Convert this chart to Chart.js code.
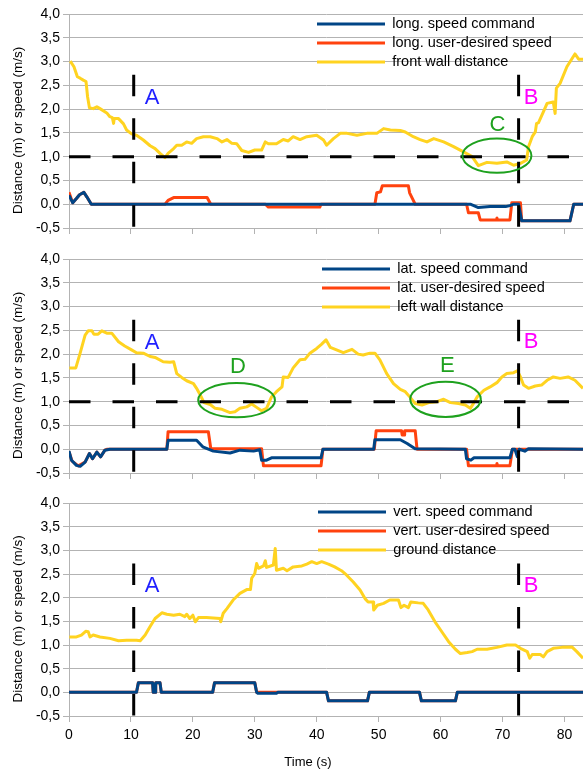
<!DOCTYPE html>
<html>
<head>
<meta charset="utf-8">
<script src="https://cdn.jsdelivr.net/npm/chart.js@4.4.0/dist/chart.umd.min.js"></script>
<style>
  body { margin: 0; background: #fff; }
  .panel { position: absolute; left: 0; width: 583px; }
</style>
</head>
<body>
<div class="panel" style="top:0;height:240px"><canvas id="chart1"></canvas></div>
<div class="panel" style="top:245px;height:240px"><canvas id="chart2"></canvas></div>
<div class="panel" style="top:489px;height:281px"><canvas id="chart3"></canvas></div>
<script>
// Axis ticks
const timeTicks = [0, 10, 20, 30, 40, 50, 60, 70, 80];
const valueTicks = [-0.5, 0, 0.5, 1, 1.5, 2, 2.5, 3, 3.5, 4];

// Event times (s) and the 1 m reference
const eventA = 10.45;
const eventB = 72.6;
const refDistance = 1.0;

// Panel 1: longitudinal  [time, value]
const longLabels = ["long. speed command", "long. user-desired speed", "front wall distance"];
const longCommand = [[0,0.19],[0.6,0.03],[1.2,0.12],[1.7,0.2],[2.4,0.25],[2.9,0.15],[3.6,0],[64.8,0],[66.1,-0.07],[68,-0.05],[70.5,-0.05],[71.2,-0.03],[71.8,0],[72.6,0],[73.1,-0.35],[80.9,-0.35],[81.5,0],[83,0]];
const longDesired = [[0,0.25],[0.4,0.1],[0.6,0.03],[1.2,0.12],[1.7,0.2],[2.4,0.25],[2.9,0.15],[3.6,0],[15.5,0],[16.0,0.08],[16.9,0.14],[22.3,0.14],[22.9,0],[31.7,0],[32.2,-0.06],[40.5,-0.06],[40.7,0],[49.4,0],[49.7,0.24],[50.3,0.26],[50.6,0.39],[54.8,0.39],[55.0,0.24],[55.6,0.08],[55.9,0],[64.2,0],[64.5,-0.18],[66.1,-0.18],[66.4,-0.33],[69.0,-0.33],[69.1,-0.29],[69.2,-0.33],[71.2,-0.33],[71.5,0.03],[72.9,0.03],[73.1,-0.35],[80.9,-0.35],[81.5,0],[83,0]];
const frontWall = [[0.2,3.01],[0.8,2.89],[1.35,2.68],[1.8,2.65],[2.3,2.61],[2.75,2.58],[3.0,2.26],[3.3,2.03],[3.9,2.01],[4.5,2.05],[5.0,2.01],[6.1,1.92],[6.6,1.84],[7.0,1.82],[7.2,1.70],[7.3,1.80],[8.0,1.80],[8.8,1.69],[9.3,1.56],[10.1,1.48],[10.9,1.45],[12.0,1.35],[13.1,1.23],[13.9,1.17],[14.7,1.07],[15.5,0.98],[16.0,1.07],[16.9,1.17],[17.4,1.24],[18.2,1.24],[19.0,1.31],[19.8,1.28],[20.6,1.38],[21.7,1.42],[22.8,1.42],[23.9,1.38],[24.7,1.31],[25.5,1.36],[26.3,1.28],[27.1,1.27],[27.9,1.13],[29.0,1.09],[30.0,1.14],[31.1,1.14],[31.7,1.31],[32.2,1.27],[33.5,1.27],[34.6,1.36],[35.4,1.33],[36.2,1.42],[37.3,1.36],[38.4,1.42],[40.0,1.45],[41.1,1.35],[41.6,1.24],[42.7,1.38],[43.8,1.49],[44.9,1.49],[46.5,1.45],[48.1,1.49],[49.7,1.49],[50.8,1.59],[51.9,1.56],[53.5,1.55],[54.3,1.52],[55.6,1.42],[56.7,1.36],[57.8,1.31],[58.9,1.38],[60.5,1.31],[62.1,1.21],[63.7,1.10],[65.1,1.00],[66.1,0.81],[67.5,0.88],[69.1,0.86],[70.7,0.89],[71.8,0.82],[72.9,0.86],[73.9,0.93],[74.2,1.21],[74.8,1.42],[75.3,1.52],[75.5,1.70],[75.8,1.71],[76.6,1.94],[77.2,2.12],[78.2,2.15],[78.5,1.91],[78.7,2.44],[79.3,2.54],[80.4,2.89],[81.7,3.16],[82.3,3.05],[83.0,3.05]];

// Panel 2: lateral
const latLabels = ["lat. speed command", "lat. user-desired speed", "left wall distance"];
const latCommand = [[0,-0.04],[0.4,-0.23],[1.2,-0.34],[1.8,-0.36],[2.6,-0.27],[3.3,-0.09],[3.8,-0.2],[4.5,-0.06],[5.1,-0.16],[5.8,-0.02],[6.6,0],[15.8,0],[16.0,0.19],[20.6,0.19],[21.6,0.05],[23.3,-0.04],[26.0,-0.08],[27.6,-0.02],[29.8,-0.04],[30.8,-0.01],[31.1,-0.23],[31.9,-0.23],[32.7,-0.18],[40.7,-0.18],[41.0,0],[49.2,0],[49.4,0.2],[53.5,0.2],[54.6,0.12],[55.9,0.01],[64.0,0],[64.2,-0.2],[64.9,-0.23],[65.4,-0.18],[71.2,-0.18],[71.6,0],[72.0,0],[72.4,-0.16],[72.7,0],[73.6,-0.04],[74.2,0.01],[83,0]];
const latDesired = [[0,-0.05],[0.5,-0.25],[1.5,-0.35],[2.6,-0.27],[3.3,-0.09],[3.8,-0.2],[4.5,-0.06],[5.1,-0.16],[5.8,-0.02],[6.1,0],[15.8,0],[16.0,0.37],[22.5,0.37],[22.9,0.01],[31.1,0.01],[31.4,-0.35],[40.7,-0.35],[41.0,0],[49.3,0],[49.6,0.39],[53.7,0.39],[53.8,0.3],[54.1,0.3],[54.2,0.39],[55.9,0.39],[56.2,0],[64.2,0],[64.5,-0.35],[69.0,-0.35],[69.1,-0.3],[69.2,-0.35],[71.2,-0.35],[71.6,0],[83,0]];
const leftWall = [[0.05,1.71],[1.1,1.71],[1.8,2.02],[2.6,2.40],[3.1,2.49],[3.7,2.49],[4.0,2.42],[4.7,2.42],[5.3,2.49],[6.1,2.44],[6.9,2.44],[8.0,2.26],[9.0,2.17],[10.1,2.09],[10.9,2.03],[12.0,2.02],[13.1,1.95],[13.9,1.93],[15.2,1.84],[16.3,1.83],[16.9,1.84],[17.4,1.59],[18.2,1.51],[19.0,1.44],[20.1,1.38],[20.6,1.28],[21.2,1.14],[21.8,0.98],[22.8,0.94],[23.6,0.86],[24.7,0.84],[26.0,0.77],[26.8,0.79],[27.6,0.86],[28.7,0.89],[29.5,0.95],[30.3,0.88],[31.1,0.81],[31.9,0.86],[32.7,1.10],[33.5,1.21],[34.4,1.31],[34.6,1.52],[35.4,1.51],[36.2,1.71],[37.3,1.88],[38.1,1.89],[38.9,2.02],[40.0,2.12],[40.8,2.21],[41.5,2.30],[42.2,2.14],[43.2,2.09],[44.3,2.03],[45.7,2.10],[46.7,2.00],[47.5,1.98],[48.6,2.02],[49.4,2.02],[50.2,1.88],[51.3,1.59],[52.4,1.38],[53.5,1.26],[54.3,1.21],[55.1,1.09],[55.9,0.96],[57.0,0.93],[58.1,0.98],[59.4,1.00],[60.5,1.05],[61.6,0.98],[62.9,0.96],[64.0,0.93],[64.8,0.86],[65.3,0.96],[65.9,1.10],[67.0,1.24],[68.0,1.31],[69.1,1.40],[69.9,1.52],[70.7,1.59],[71.8,1.61],[72.4,1.65],[72.9,1.52],[73.4,1.35],[74.2,1.28],[75.3,1.33],[76.3,1.35],[77.2,1.45],[78.2,1.52],[79.3,1.49],[80.6,1.52],[81.7,1.45],[83.0,1.28]];

// Panel 3: vertical
const vertLabels = ["vert. speed command", "vert. user-desired speed", "ground distance"];
const vertCommand = [[0,0],[10.9,0],[11.2,0.2],[13.5,0.2],[13.6,0],[13.9,0],[14.0,0.2],[14.7,0.2],[14.9,0],[23.2,0],[23.5,0.2],[30.0,0.2],[30.3,0],[30.5,-0.02],[33.5,-0.02],[33.7,0],[41.6,0],[41.9,-0.18],[48.2,-0.18],[48.5,0],[56.6,0],[56.9,-0.18],[62.4,-0.18],[62.7,0],[83,0]];
const vertDesired = [[0,0],[10.9,0],[11.2,0.2],[13.5,0.2],[13.6,0],[13.9,0],[14.0,0.2],[14.7,0.2],[14.9,0],[23.2,0],[23.5,0.2],[30.0,0.2],[30.3,0],[41.6,0],[41.9,-0.18],[48.2,-0.18],[48.5,0],[56.6,0],[56.9,-0.18],[62.4,-0.18],[62.7,0],[83,0]];
const groundDist = [[0.05,1.17],[1.2,1.17],[2.0,1.21],[2.7,1.29],[3.1,1.28],[3.4,1.17],[3.9,1.21],[5.0,1.17],[6.6,1.14],[8.0,1.09],[9.3,1.10],[10.9,1.10],[11.5,1.09],[12.3,1.21],[13.1,1.39],[13.9,1.56],[15.0,1.68],[15.8,1.65],[16.9,1.63],[17.9,1.65],[18.7,1.60],[19.0,1.65],[19.5,1.56],[20.0,1.63],[20.4,1.49],[20.9,1.58],[22.2,1.58],[24.4,1.56],[24.5,1.49],[24.9,1.67],[25.5,1.77],[26.5,1.95],[27.6,2.09],[28.7,2.17],[29.3,2.17],[29.5,2.41],[30.0,2.51],[30.3,2.72],[30.6,2.62],[31.4,2.67],[31.7,2.78],[31.9,2.64],[33.0,2.69],[33.3,3.04],[33.5,2.58],[34.6,2.62],[35.2,2.57],[36.2,2.65],[37.6,2.67],[38.4,2.71],[39.2,2.76],[40.0,2.72],[40.8,2.76],[41.9,2.71],[42.9,2.65],[44.0,2.57],[44.8,2.48],[45.9,2.33],[47.0,2.16],[47.8,1.98],[48.3,1.91],[49.1,1.91],[49.2,1.74],[49.8,1.84],[50.8,1.88],[51.8,1.95],[53.2,1.95],[53.6,1.79],[54.1,1.84],[54.8,1.79],[55.2,1.91],[56.4,1.89],[57.2,1.88],[58.0,1.74],[59.1,1.49],[60.2,1.28],[61.3,1.07],[62.4,0.91],[63.2,0.82],[64.3,0.84],[65.1,0.86],[65.9,0.91],[67.5,0.91],[69.1,0.95],[70.7,1.00],[72.1,1.00],[72.9,0.93],[74.0,0.86],[74.4,0.72],[74.8,0.80],[76.1,0.80],[76.6,0.75],[77.2,0.86],[78.2,0.93],[79.6,0.95],[81.2,0.96],[82.0,0.86],[83.0,0.72]];

const seriesColors = ["#004586", "#ff420e", "#ffd320"];
const GRID = "#b3b3b3";
const FONT = "'Liberation Sans', Arial, sans-serif";

// Draws the circled zones and the A/B/C... letters, and moves the legend into the plot
const extrasPlugin = {
  id: "extras",
  afterLayout(chart, args, opts) {
    const legend = chart.legend;
    if (!legend || !opts.legendAt) return;
    const pad = legend.options.labels.padding;
    const size = legend.options.labels.font.size;
    legend.left = opts.legendAt.x - pad;
    legend.top = opts.legendAt.y - pad - size / 2;
    legend.right = chart.width;
    legend.bottom = chart.chartArea.bottom;
  },
  afterDatasetsDraw(chart, args, opts) {
    const ctx = chart.ctx;
    const xs = chart.scales.x;
    const ys = chart.scales.y;
    ctx.save();
    ctx.strokeStyle = "#1ea11e";
    ctx.lineWidth = 2;
    (opts.ellipses || []).forEach((e) => {
      const cx = xs.getPixelForValue(e.t);
      const cy = ys.getPixelForValue(e.v);
      const rx = Math.abs(xs.getPixelForValue(e.t + e.rt) - cx);
      const ry = Math.abs(ys.getPixelForValue(e.v + e.rv) - cy);
      ctx.beginPath();
      ctx.ellipse(cx, cy, rx, ry, 0, 0, Math.PI * 2);
      ctx.stroke();
    });
    ctx.font = "22px " + FONT;
    ctx.textAlign = "center";
    ctx.textBaseline = "middle";
    (opts.letters || []).forEach((l) => {
      ctx.fillStyle = l.color;
      ctx.fillText(l.text, xs.getPixelForValue(l.t), ys.getPixelForValue(l.v));
    });
    ctx.restore();
  },
};

function seriesDataset(label, pairs, color) {
  return {
    label: label,
    data: pairs.map((p) => ({ x: p[0], y: p[1] })),
    borderColor: color,
    backgroundColor: color,
    borderWidth: 3,
    pointRadius: 0,
    tension: 0,
    borderJoinStyle: "round",
    fill: false,
  };
}

function guideDataset(pairs) {
  return {
    label: "",
    guide: true,
    data: pairs.map((p) => ({ x: p[0], y: p[1] })),
    borderColor: "#000",
    borderWidth: 3,
    borderDash: [21.5, 22],
    pointRadius: 0,
    fill: false,
    order: -1,
  };
}

function buildPanel(canvasId, labels, series, cfg) {
  const datasets = series.map((s, i) => seriesDataset(labels[i], s, seriesColors[i]));
  datasets.push(guideDataset([[eventA, 2.72], [eventA, -0.5]]));
  datasets.push(guideDataset([[eventB, 2.72], [eventB, -0.5]]));
  if (cfg.refLine) datasets.push(guideDataset([[0, refDistance], [83, refDistance]]));

  const ctx = document.getElementById(canvasId).getContext("2d");
  new Chart(ctx, {
    type: "line",
    data: { datasets: datasets },
    plugins: [extrasPlugin],
    options: {
      responsive: true,
      maintainAspectRatio: false,
      animation: false,
      layout: { padding: { top: 14, left: 0, right: 0, bottom: 0 } },
      plugins: {
        legend: {
          position: "chartArea",
          align: "start",
          labels: {
            usePointStyle: true,
            pointStyle: "line",
            pointStyleWidth: 68,
            padding: 4.5,
            color: "#000",
            font: { family: FONT, size: 14.5 },
            filter: (item, data) => !data.datasets[item.datasetIndex].guide,
          },
        },
        tooltip: { enabled: false },
        extras: { legendAt: cfg.legendAt, letters: cfg.letters, ellipses: cfg.ellipses },
      },
      scales: {
        x: {
          type: "linear",
          min: 0,
          max: 83,
          afterBuildTicks: (scale) => { scale.ticks = timeTicks.map((v) => ({ value: v })); },
          afterFit: (scale) => { scale.height = cfg.showTime ? 54 : 12; },
          grid: { drawOnChartArea: false, color: GRID, tickLength: 6 },
          border: { color: GRID },
          ticks: { display: cfg.showTime, padding: 5, color: "#000", font: { family: FONT, size: 14 } },
          title: {
            display: cfg.showTime,
            text: "Time (s)          ",
            color: "#000",
            padding: { top: 0, bottom: 0 },
            font: { family: FONT, size: 13 },
          },
        },
        y: {
          min: -0.5,
          max: 4,
          afterBuildTicks: (scale) => { scale.ticks = valueTicks.map((v) => ({ value: v })); },
          afterFit: (scale) => { scale.width = 69; },
          grid: { color: GRID, tickLength: 6 },
          border: { color: GRID },
          ticks: {
            padding: 3,
            color: "#000",
            font: { family: FONT, size: 14 },
            callback: (v) => v.toFixed(1).replace(".", ","),
          },
          title: {
            display: true,
            text: "Distance (m) or speed (m/s)     ",
            color: "#000",
            padding: { top: 10, bottom: 0 },
            font: { family: FONT, size: 13.5 },
          },
        },
      },
    },
  });
}

const blue = "#1f1fff";
const magenta = "#ff00ff";
const green = "#1ea11e";

// Longitudinal chart
buildPanel("chart1", longLabels, [longCommand, longDesired, frontWall], {
  refLine: true,
  showTime: false,
  legendAt: { x: 317, y: 24 },
  letters: [
    { text: "A", t: 13.4, v: 2.23, color: blue },
    { text: "B", t: 74.6, v: 2.23, color: magenta },
    { text: "C", t: 69.2, v: 1.66, color: green },
  ],
  ellipses: [{ t: 69.1, v: 1.02, rt: 5.57, rv: 0.36 }],
});

// Lateral chart
buildPanel("chart2", latLabels, [latCommand, latDesired, leftWall], {
  refLine: true,
  showTime: false,
  legendAt: { x: 322, y: 24 },
  letters: [
    { text: "A", t: 13.4, v: 2.23, color: blue },
    { text: "B", t: 74.6, v: 2.25, color: magenta },
    { text: "D", t: 27.3, v: 1.72, color: green },
    { text: "E", t: 61.1, v: 1.75, color: green },
  ],
  ellipses: [
    { t: 27.06, v: 1.03, rt: 6.2, rv: 0.36 },
    { t: 60.8, v: 1.05, rt: 5.7, rv: 0.37 },
  ],
});

// Vertical chart
buildPanel("chart3", vertLabels, [vertCommand, vertDesired, groundDist], {
  refLine: false,
  showTime: true,
  legendAt: { x: 318, y: 23 },
  letters: [
    { text: "A", t: 13.4, v: 2.24, color: blue },
    { text: "B", t: 74.6, v: 2.24, color: magenta },
  ],
  ellipses: [],
});
</script>
</body>
</html>
